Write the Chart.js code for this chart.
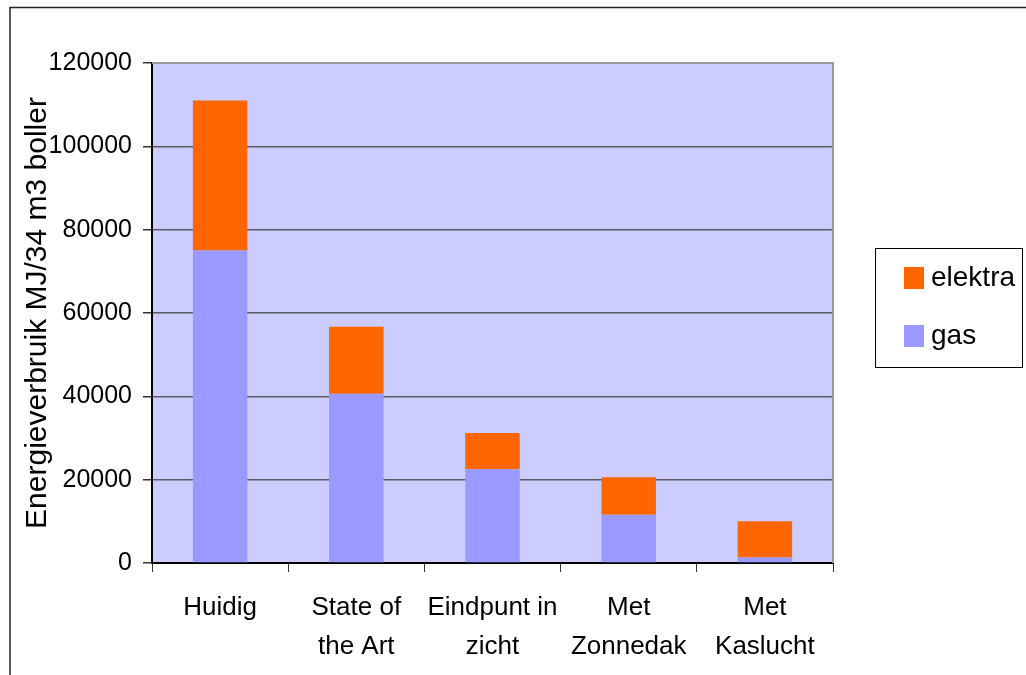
<!DOCTYPE html>
<html>
<head>
<meta charset="utf-8">
<script src="https://cdn.jsdelivr.net/npm/chart.js@4/dist/chart.umd.min.js"></script>
<style>
  body { margin: 0; background: #fff; }
</style>
</head>
<body>
<canvas id="chart1" width="1026" height="675"></canvas>
<script>
// data
const categories = [['Huidig'], ['State of', 'the Art'], ['Eindpunt in', 'zicht'], ['Met', 'Zonnedak'], ['Met', 'Kaslucht']];
const gasValues = [75000, 40600, 22500, 11600, 1300];
const elektraValues = [36000, 16100, 8700, 9000, 8700];
const yTicks = [0, 20000, 40000, 60000, 80000, 100000, 120000];

const FONT = 'Liberation Sans, Arial, sans-serif';

// achtergrond, kaders en legenda
const decor = {
  id: 'decor',
  beforeDraw(chart) {
    const c = chart.ctx, a = chart.chartArea;
    c.save();
    c.fillStyle = '#fff';
    c.fillRect(0, 0, chart.width, chart.height);
    c.strokeStyle = '#222';
    c.lineWidth = 1.5;
    c.beginPath();
    c.moveTo(10, chart.height);
    c.lineTo(10, 7.5);
    c.lineTo(chart.width, 7.5);
    c.stroke();
    c.fillStyle = '#CCCCFF';
    c.fillRect(a.left, a.top, a.right - a.left, a.bottom - a.top);
    c.restore();
  },
  afterDraw(chart) {
    const c = chart.ctx, a = chart.chartArea;
    c.save();
    c.strokeStyle = '#999';
    c.lineWidth = 2;
    c.beginPath();
    c.moveTo(a.left, a.top);
    c.lineTo(a.right, a.top);
    c.lineTo(a.right, a.bottom);
    c.stroke();
    // legenda
    c.strokeStyle = '#000';
    c.lineWidth = 1;
    c.strokeRect(875.5, 248.5, 147, 119);
    c.font = '28px ' + FONT;
    c.textBaseline = 'middle';
    const sets = chart.data.datasets.slice().reverse();
    sets.forEach((ds, i) => {
      const y = 278 + i * 58;
      c.fillStyle = ds.backgroundColor;
      c.fillRect(904, y - 11, 20, 22);
      c.fillStyle = '#000';
      c.fillText(ds.label, 931, y);
    });
    c.restore();
  }
};

new Chart(document.getElementById('chart1'), {
  type: 'bar',
  data: {
    labels: categories,
    datasets: [
      { label: 'gas', data: gasValues, backgroundColor: '#9999FF' },
      { label: 'elektra', data: elektraValues, backgroundColor: '#FF6600' }
    ]
  },
  options: {
    responsive: false,
    animation: false,
    layout: { padding: { left: 0, top: 63, right: 193, bottom: 0 } },
    datasets: { bar: { categoryPercentage: 1, barPercentage: 0.4 } },
    plugins: { legend: { display: false }, tooltip: { enabled: false } },
    scales: {
      x: {
        stacked: true,
        afterFit: s => { s.height = 112; },
        border: { color: '#000', width: 2 },
        grid: { offset: true, drawOnChartArea: false, tickLength: 9, color: '#333' },
        ticks: { color: '#000', padding: 16, maxRotation: 0, font: { family: FONT, size: 26, lineHeight: 1.5 } }
      },
      y: {
        stacked: true,
        min: 0,
        max: 120000,
        afterFit: s => { s.width = 152; },
        afterBuildTicks: s => { s.ticks = yTicks.map(v => ({ value: v })); },
        border: { color: '#000', width: 2 },
        grid: {
          tickLength: 9,
          lineWidth: 1.5,
          tickColor: '#333',
          color: ctx => (ctx.tick && ctx.tick.value === 120000 ? 'rgba(0,0,0,0)' : '#5a5a66')
        },
        ticks: { color: '#000', padding: 11, font: { family: FONT, size: 25 }, callback: v => String(v) },
        title: {
          display: true,
          text: 'Energieverbruik MJ/34 m3 boller',
          color: '#000',
          padding: { top: 21, bottom: 0 },
          font: { family: FONT, size: 30, lineHeight: 1.1 }
        }
      }
    }
  },
  plugins: [decor]
});
</script>
</body>
</html>
